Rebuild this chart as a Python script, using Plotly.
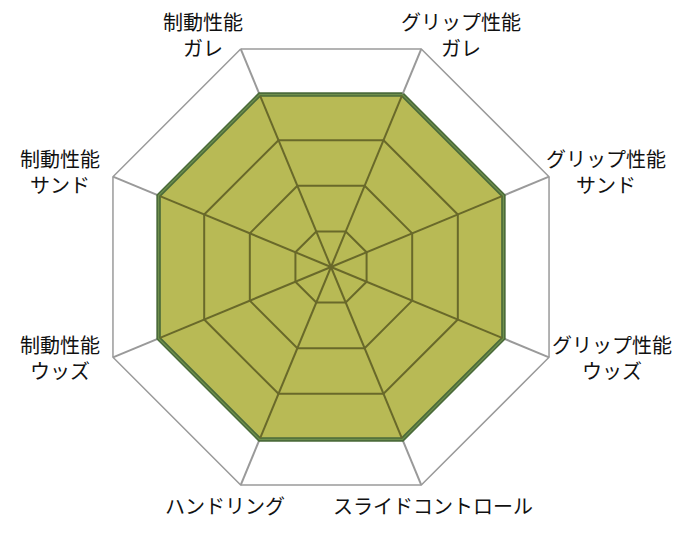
import plotly.graph_objects as go

categories = [
    "グリップ性能<br>ガレ",
    "グリップ性能<br>サンド",
    "グリップ性能<br>ウッズ",
    "スライドコントロール",
    "ハンドリング",
    "制動性能<br>ウッズ",
    "制動性能<br>サンド",
    "制動性能<br>ガレ",
]
values = [4, 4, 4, 4, 4, 4, 4, 4]
ring_ticks = [1, 2, 3, 4, 5]
r_min = 0.22
r_max = 5

W, H = 680, 535
ML, MR, MT, MB = 87, 121, 23, 40
PAGE_OFF = 8  # default body margin of the html page

# label centres in screen pixels (same order as categories)
label_px = [
    (461, 35), (606, 171), (612, 357), (433, 505),
    (225, 505), (60, 357), (60, 171), (203, 35),
]


def to_paper(px, py):
    x = (px - PAGE_OFF - ML) / (W - ML - MR)
    y = 1 - (py - PAGE_OFF - MT) / (H - MT - MB)
    return x, y


fig = go.Figure()

# filled area
fig.add_trace(go.Scatterpolar(
    r=values + values[:1],
    theta=categories + categories[:1],
    mode='lines',
    fill='toself',
    fillcolor='#b8ba55',
    line=dict(color='#4b6b3a', width=4.5),
    hoverinfo='skip',
    showlegend=False,
))
fig.add_trace(go.Scatterpolar(
    r=values + values[:1],
    theta=categories + categories[:1],
    mode='lines',
    line=dict(color='#6f8f4c', width=1.2),
    hoverinfo='skip',
    showlegend=False,
))

# inner grid lines drawn on top of the fill (dark olive)
for t in ring_ticks:
    if t < min(values):
        fig.add_trace(go.Scatterpolar(
            r=[t] * (len(categories) + 1),
            theta=categories + categories[:1],
            mode='lines',
            line=dict(color='#69692a', width=2),
            hoverinfo='skip',
            showlegend=False,
        ))
for cat, v in zip(categories, values):
    fig.add_trace(go.Scatterpolar(
        r=[r_min, v - 0.03],
        theta=[cat, cat],
        mode='lines',
        line=dict(color='#69692a', width=2),
        hoverinfo='skip',
        showlegend=False,
    ))

annotations = []
for cat, (px, py) in zip(categories, label_px):
    x, y = to_paper(px, py)
    annotations.append(dict(
        x=x, y=y, xref='paper', yref='paper',
        text=cat, showarrow=False, align='center',
        xanchor='center', yanchor='middle',
        font=dict(size=20, color='#111111'),
    ))

fig.update_layout(
    width=W,
    height=H,
    margin=dict(l=ML, r=MR, t=MT, b=MB),
    paper_bgcolor='white',
    font=dict(family='Noto Sans CJK JP', size=20, color='#111111'),
    annotations=annotations,
    polar=dict(
        bgcolor='white',
        gridshape='linear',
        radialaxis=dict(
            range=[r_min, r_max],
            tickvals=ring_ticks,
            showticklabels=False,
            ticks='',
            showline=False,
            gridcolor='#9a9a9a',
            gridwidth=1.5,
        ),
        angularaxis=dict(
            type='category',
            categoryarray=categories,
            rotation=67.5,
            direction='clockwise',
            showline=True,
            linecolor='#9a9a9a',
            linewidth=1.5,
            gridcolor='#9a9a9a',
            gridwidth=1.5,
            ticks='',
            showticklabels=False,
        ),
    ),
)

fig.write_html("out.html")
